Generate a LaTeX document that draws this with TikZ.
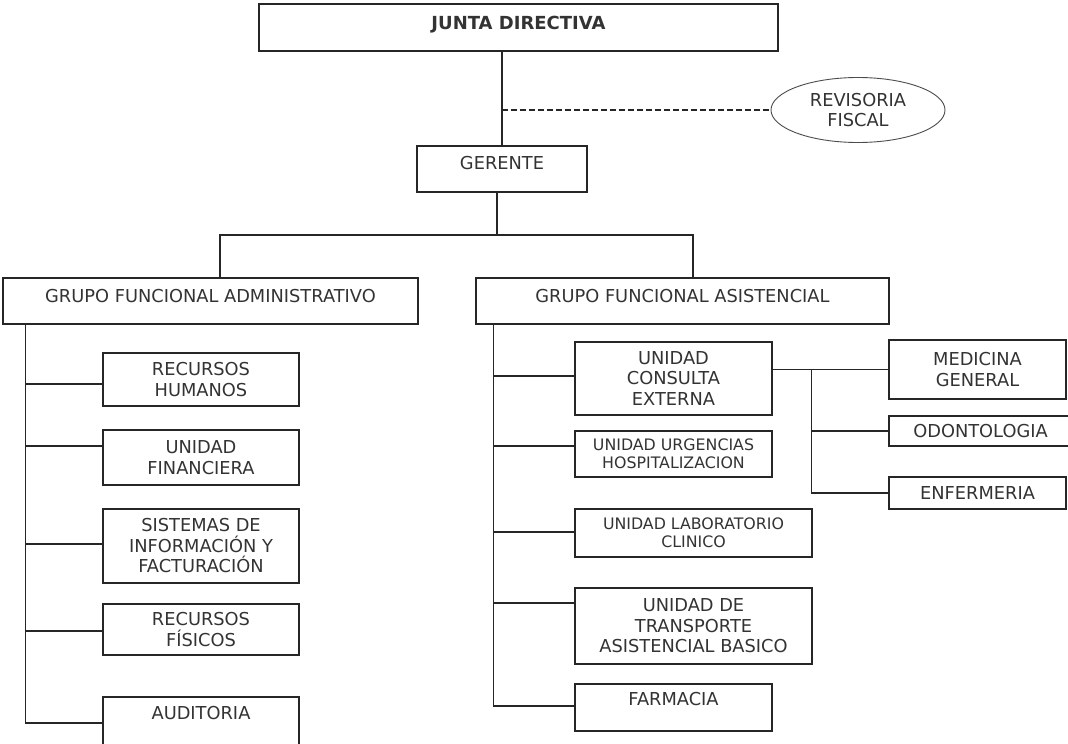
\documentclass[tikz,border=0pt]{standalone}
\usepackage{fontspec}
\setmainfont{DejaVu Sans}
\usetikzlibrary{shapes.geometric}
\begin{document}
\begin{tikzpicture}[x=1pt,y=-1pt,
  every node/.style={text=black!80},
  txt/.style={font=\fontsize{17.8}{20.5}\selectfont, align=center},
  smalltxt/.style={font=\fontsize{15.8}{18.3}\selectfont, align=center},
  box/.style={draw=black!85, line width=1.2pt, inner sep=0pt, rectangle, txt},
  toplab/.style={anchor=north, inner sep=0pt, txt},
  link/.style={draw=black!85, line width=1.2pt},
  dashlink/.style={draw=black!85, line width=1.1pt, dash pattern=on 5.5pt off 3.5pt}]
\useasboundingbox (0,0) rectangle (1068,744);
\clip (0,0) rectangle (1068,744);
\fill[white] (0,0) rectangle (1068,744);

% top level
\node[box, minimum width=519pt, minimum height=47pt,
  label={[toplab, yshift=-13pt, font=\fontsize{18}{20.5}\selectfont\bfseries]north:JUNTA DIRECTIVA}] (junta) at (518.5,27.5) {};
\node[box, minimum width=170pt, minimum height=46pt,
  label={[toplab, yshift=-11pt]north:GERENTE}] (ger) at (502,169) {};
\node[ellipse, draw=black!70, line width=0.9pt, minimum width=174pt, minimum height=65pt,
  inner sep=0pt, txt] (rev) at (858,110) {REVISORIA\\FISCAL};

% groups
\node[box, minimum width=415pt, minimum height=46pt,
  label={[toplab, yshift=-12pt]north:GRUPO FUNCIONAL ADMINISTRATIVO}] (admin) at (210.5,301) {};
\node[box, minimum width=413pt, minimum height=46pt,
  label={[toplab, yshift=-12pt]north:GRUPO FUNCIONAL ASISTENCIAL}] (asist) at (682.5,301) {};

% administrative units
\node[box, minimum width=196pt, minimum height=53pt] (rh) at (201,379.5) {RECURSOS\\HUMANOS};
\node[box, minimum width=196pt, minimum height=55pt] (uf) at (201,457.5) {UNIDAD\\FINANCIERA};
\node[box, minimum width=196pt, minimum height=74pt] (sis) at (201,546) {SISTEMAS DE\\INFORMACIÓN Y\\FACTURACIÓN};
\node[box, minimum width=196pt, minimum height=51pt] (rf) at (201,629.5) {RECURSOS\\FÍSICOS};
\node[box, minimum width=196pt, minimum height=55pt,
  label={[toplab, yshift=-10pt]north:AUDITORIA}] (aud) at (201,724.5) {};

% assistance units
\node[box, minimum width=197pt, minimum height=73pt] (cons) at (673.5,378.5) {UNIDAD\\CONSULTA\\EXTERNA};
\node[box, smalltxt, minimum width=197pt, minimum height=46pt] (urg) at (673.5,454) {UNIDAD URGENCIAS\\HOSPITALIZACION};
\node[box, smalltxt, minimum width=237pt, minimum height=48pt] (labo) at (693.5,533) {UNIDAD LABORATORIO\\CLINICO};
\node[box, minimum width=237pt, minimum height=76pt] (tra) at (693.5,626) {UNIDAD DE\\TRANSPORTE\\ASISTENCIAL BASICO};
\node[box, minimum width=197pt, minimum height=47pt,
  label={[toplab, yshift=-9pt]north:FARMACIA}] (far) at (673.5,707.5) {};

% consulta externa sub-units
\node[box, minimum width=177pt, minimum height=59pt] (med) at (977.5,369.5) {MEDICINA\\GENERAL};
\node[box, minimum width=183pt, minimum height=30pt] (odo) at (980.5,431) {ODONTOLOGIA};
\node[box, minimum width=177pt, minimum height=32pt] (enf) at (977.5,493) {ENFERMERIA};

% connectors: top
\draw[link] (ger.north) -- (ger.north |- junta.south);
\draw[dashlink] (ger.north |- rev.west) -- (rev.west);
\coordinate (busL) at (220,235);
\coordinate (busR) at (693,235);
\coordinate (gdown) at ([xshift=-5pt]ger.south);
\draw[link] (gdown) -- (gdown |- busL);
\draw[link] (admin.north -| busL) -- (busL) -- (busR) -- (asist.north -| busR);

% left spine
\coordinate (spL) at ([xshift=23pt]admin.south west);
\coordinate (rhb) at ([yshift=-4.5pt]rh.west);
\coordinate (ufb) at ([yshift=11.5pt]uf.west);
\coordinate (sisb) at ([yshift=2pt]sis.west);
\coordinate (rfb) at ([yshift=-1.5pt]rf.west);
\coordinate (audb) at ([yshift=1.5pt]aud.west);
\draw[link] (spL) -- (audb -| spL) -- (audb);
\draw[link] (rhb -| spL) -- (rhb);
\draw[link] (ufb -| spL) -- (ufb);
\draw[link] (sisb -| spL) -- (sisb);
\draw[link] (rfb -| spL) -- (rfb);

% right spine
\coordinate (spR) at ([xshift=18pt]asist.south west);
\coordinate (consb) at ([yshift=2.5pt]cons.west);
\coordinate (urgb) at ([yshift=8pt]urg.west);
\coordinate (labb) at ([yshift=1pt]labo.west);
\coordinate (trab) at ([yshift=23pt]tra.west);
\coordinate (farb) at ([yshift=1.5pt]far.west);
\draw[link] (spR) -- (farb -| spR) -- (farb);
\draw[link] (consb -| spR) -- (consb);
\draw[link] (urgb -| spR) -- (urgb);
\draw[link] (labb -| spR) -- (labb);
\draw[link] (trab -| spR) -- (trab);

% consulta externa branch
\coordinate (subx) at ([xshift=39pt]cons.east);
\draw[link] (med.west -| cons.east) -- (med.west);
\draw[link] (med.west -| subx) -- (enf.west -| subx) -- (enf.west);
\draw[link] (odo.west -| subx) -- (odo.west);
\end{tikzpicture}
\end{document}
